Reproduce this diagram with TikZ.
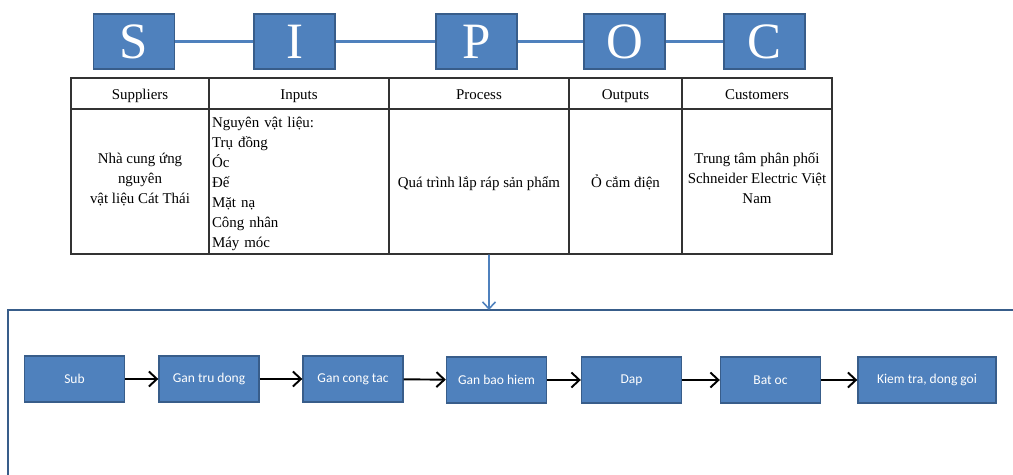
\documentclass[tikz,border=0pt]{standalone}
\usepackage{fontspec}
\setmainfont{Liberation Serif}
\newfontfamily\boxfont{Carlito}
\usepackage{xcolor}
\usetikzlibrary{arrows.meta}
\definecolor{sipocblue}{HTML}{4F81BD}
\definecolor{sipocedge}{HTML}{385D8A}
\tikzstyle{letter} = [rectangle, fill=sipocblue, draw=sipocedge, line width=0.8pt, minimum width=1.62cm,
minimum height=1.1cm, inner sep=0pt, text=white, font=\fontsize{29}{29}\selectfont]
\tikzstyle{cell} = [rectangle, draw=black!80, line width=0.6pt, inner sep=0pt, align=center,
font=\fontsize{8.5}{11.34}\selectfont, execute at begin node={\rule{0pt}{10pt}},
execute at end node={\strut}]
\tikzstyle{stage} = [rectangle, fill=sipocblue, draw=sipocedge, line width=0.8pt, minimum width=2cm,
minimum height=0.92cm, inner sep=0pt, text=white, font=\boxfont\fontsize{7.7}{9}\selectfont]
\tikzstyle{flow} = [-{Straight Barb[length=1.6mm,width=3mm]}, line width=1.1pt, black]

\begin{document}
\begin{tikzpicture}[x=0.02cm, y=-0.02cm]
        \useasboundingbox (0,0) rectangle (1013,475);

        % SIPOC letters
        \node[letter] at (134,41.5) (S) {S};
        \node[letter] at (294.5,41.5) (I) {I};
        \node[letter] at (476.5,41.5) (P) {P};
        \node[letter] at (624.5,41.5) (O) {O};
        \node[letter] at (764.5,41.5) (C) {C};

        \draw[sipocblue, line width=1.2pt] (S) -- (I);
        \draw[sipocblue, line width=1.2pt] (I) -- (P);
        \draw[sipocblue, line width=1.2pt] (P) -- (O);
        \draw[sipocblue, line width=1.2pt] (O) -- (C);

        % Header row
        \node[cell, minimum width=2.76cm, minimum height=0.62cm] at (140,93.5) (suphead) {Suppliers};
        \node[cell, minimum width=3.6cm, minimum height=0.62cm] at (299,93.5) (inhead) {Inputs};
        \node[cell, minimum width=3.6cm, minimum height=0.62cm] at (479,93.5) (prochead) {Process};
        \node[cell, minimum width=2.26cm, minimum height=0.62cm] at (625.5,93.5) (outhead) {Outputs};
        \node[cell, minimum width=3cm, minimum height=0.62cm] at (757,93.5) (custhead) {Customers};

        % Body row
        \node[cell, minimum width=2.76cm, minimum height=2.9cm] at (140,181.5) (supbody)
            {Nhà cung ứng\\nguyên\\vật liệu Cát Thái};
        \node[cell, minimum height=2.9cm, text width=3.48cm, inner xsep=0.06cm, align=left] at (299,181.5) (inbody)
            {Nguyên vật liệu:\\Trụ đồng\\Óc\\Đế\\Mặt nạ\\Công nhân\\Máy móc};
        \node[cell, minimum width=3.6cm, minimum height=2.9cm] at (479,181.5) (procbody)
            {Quá trình lắp ráp sản phẩm};
        \node[cell, minimum width=2.26cm, minimum height=2.9cm] at (625.5,181.5) (outbody)
            {Ỏ cắm điện};
        \node[cell, minimum width=3cm, minimum height=2.9cm] at (757,181.5) (custbody)
            {Trung tâm phân phối\\Schneider Electric Việt\\Nam};

        % Process frame
        \draw[sipocedge, line width=1pt] (1013,310) -- (8,310) -- (8,475);
        \coordinate (frametop) at (489,310);
        \draw[sipocblue, line width=0.9pt, -{Straight Barb[length=1.4mm,width=2.6mm]}]
            ([xshift=0.2cm]procbody.south) -- (frametop);

        % Process steps
        \node[stage] at (74.5,379) (sub) {Sub};
        \node[stage] at (209,379) (trudong) {Gan tru dong};
        \node[stage] at (353,379) (congtac) {Gan cong tac};
        \node[stage] at (496.5,380) (baohiem) {Gan bao hiem};
        \node[stage] at (631.5,380) (dap) {Dap};
        \node[stage] at (770.5,380) (batoc) {Bat oc};
        \node[stage, minimum width=2.76cm] at (927,380) (kiemtra) {Kiem tra, dong goi};

        \draw[flow] (sub) -- (trudong);
        \draw[flow] (trudong) -- (congtac);
        \draw[flow] (congtac) -- (baohiem);
        \draw[flow] (baohiem) -- (dap);
        \draw[flow] (dap) -- (batoc);
        \draw[flow] (batoc) -- (kiemtra);
    \end{tikzpicture}
\end{document}
